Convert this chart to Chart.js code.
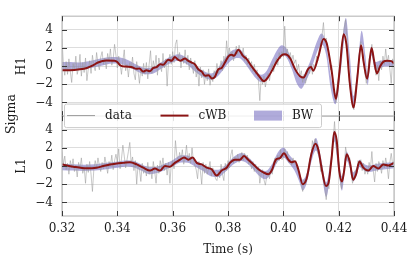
<!DOCTYPE html>
<html>
<head>
<meta charset="utf-8">
<script src="https://cdn.jsdelivr.net/npm/chart.js@4.4.0/dist/chart.umd.min.js"></script>
<style>
  html, body { margin: 0; padding: 0; background: #fff; }
  #grafico { display: block; }
</style>
</head>
<body>
<canvas id="grafico" width="415" height="257"></canvas>
<script>
// eixos
const timeTicks = [0.32, 0.34, 0.36, 0.38, 0.40, 0.42, 0.44];
const sigmaTicks = [-4, -2, 0, 2, 4];
const detectors = ['H1', 'L1'];
const seriesNames = ['data', 'cWB', 'BW'];

// dados brutos (whitened), uma amostra a cada 0.5 ms a partir de 0.32 s
const sampleStart = 0.32;
const sampleStep = 0.0005;
const h1Data = [
  3.0, 0.2, -1.0, 0.5, -0.9, 0.8, -0.6, -1.8, 0.3, -0.4, 1.1, -0.9, -0.2, 1.3, -1.1, 0.4, -0.7, 0.9, -1.6, -0.3,
  0.6, -0.8, 1.2, 0.1, -0.5, 1.5, 0.3, -0.4, 1.0, 1.6, 0.2, 0.9, -0.3, 1.4, 0.5, 1.9, 0.1, 0.8, 2.4, 1.2,
  -0.2, 1.1, 0.3, -0.9, 0.6, 1.8, -0.5, 0.2, -1.2, 0.4, -0.3, 1.0, -0.8, -1.5, 0.5, -0.6, -1.9, -0.2, -1.1, 0.3,
  -0.9, 0.4, -1.4, 0.2, 1.7, -0.8, 0.6, -0.3, 1.2, -1.0, 0.9, 0.1, -0.6, 1.4, -0.2, 0.8, -2.2, 0.5, 1.3, 0.2,
  1.6, 0.4, 2.4, 2.9, 0.8, 1.5, -0.2, 1.1, 0.3, 1.8, 0.2, 1.2, -0.4, 0.9, 0.1, -0.8, 0.6, -1.2, -0.3, -2.2,
  -0.1, -1.3, -0.4, -2.0, -0.8, -1.6, -0.3, -2.1, -1.0, -1.7, -0.5, -0.9, 0.3, -0.8, -0.2, 0.6, -0.5, 1.1, 0.4, 2.8,
  0.8, 2.0, 1.0, 1.6, 0.6, 1.4, 2.2, 1.3, 2.3, 1.5, 1.1, 2.0, 0.6, 1.2, 0.2, 0.9, -0.3, 0.5, -0.6, 0.2,
  -0.9, -0.4, -1.6, -3.8, -1.2, -2.0, -1.1, -2.3, -1.4, -0.8, -1.6, -0.5, 0.2, -0.6, 0.4, 0.9, 0.1, 1.5, 0.8, 1.6,
  1.0, 4.4, 1.2, 1.9, 0.8, 1.5, 0.6, 1.2, 0.3, 0.7, -0.5, 0.2, -1.1, -0.5, -1.8, -0.9, -1.9, -1.2, -0.4, -0.8,
  0.3, -0.9, 0.2, -0.2, 1.1, 0.6, 2.0, 2.6, 3.4, 4.8, 2.6, 3.1, 1.8, 1.4, -0.4, 0.1, -2.2, -3.4, -4.0, -2.0,
  -1.2, 0.3, 2.1, 3.0, 4.2, 5.1, 2.9, -0.2, -2.3, -3.0, -4.5, -4.8, -2.6, -2.1, -0.3, 1.4, 2.7, 1.6, 1.0, -0.8,
  -1.9, -0.6, 0.8, 1.2, 2.4, 0.9, 0.5, -1.0, 0.1, -1.6, 0.6, -0.4, 1.1, 0.2, 1.9, 0.4, 1.2, -0.3, -1.9, 0.8,
  0.3
];
const l1Data = [
  1.6, 0.2, 1.1, -0.4, 0.3, -0.9, 0.6, -0.2, 0.8, -0.6, 0.1, -1.2, 0.4, -0.3, 0.9, -0.8, -0.1, -1.9, 0.2, -0.7,
  0.5, -0.9, -2.8, -0.4, 0.6, -0.2, 0.9, 0.1, -0.6, 0.4, -0.3, 1.0, 0.2, -0.8, 0.5, 0.0, 1.2, -0.4, 0.6, 1.3,
  0.4, 1.9, -0.3, 0.8, 2.3, 1.1, -0.2, 0.7, 1.6, 2.6, 0.3, 1.0, -0.5, 0.6, -2.0, 0.2, -0.4, -1.7, 0.3, -0.8,
  -0.2, -1.1, 0.4, -0.9, -0.3, -1.4, 0.5, -0.6, -1.9, 0.1, -0.8, 0.6, -0.2, 0.9, -0.5, 0.3, -1.0, 0.4, -1.9, 0.2,
  0.6, -0.3, 2.8, 1.2, 0.4, 1.5, 0.7, 1.8, 0.2, 1.0, 2.3, 0.5, 1.4, 0.3, 2.0, 0.6, 0.1, -0.4, -1.4, 0.5,
  -0.5, -2.0, 0.4, -0.8, 0.2, -0.9, -0.3, 0.5, -1.1, -0.2, -0.7, -1.4, -1.6, -0.6, -1.3, 0.2, -0.9, -1.6, 0.3, -0.5,
  0.6, -0.2, 1.2, 1.8, 0.3, 1.0, 0.5, 1.3, 0.4, 0.9, 1.5, 0.6, 1.4, 0.8, 1.2, 0.2, 0.7, -0.3, 0.5, -0.6,
  0.2, -0.6, -0.1, -1.9, -0.8, -0.4, -1.5, -2.1, -1.2, -0.6, -1.4, -0.3, -0.9, 0.4, 0.9, 0.3, 1.2, 0.6, 1.8, 0.7,
  1.0, 1.9, 0.9, 1.6, 0.4, 0.8, 0.1, 0.9, 0.3, 0.6, -0.2, -0.8, -1.3, -1.9, -2.8, -1.5, -2.1, -0.9, -0.6, 0.8,
  0.9, 2.8, 2.0, 3.0, 2.2, 1.4, 1.2, -0.6, 0.1, -1.8, -2.4, -3.7, -2.0, -2.5, 0.5, 0.7, 2.8, 4.9, 2.6, 1.2,
  0.4, -1.4, -2.5, -1.1, -0.3, 2.1, 1.2, 0.6, 0.9, -0.8, -1.9, -1.2, -0.5, -0.8, 0.6, 0.1, 0.7, -0.5, 0.3, -0.9,
  -0.2, -0.9, 0.4, -0.3, 1.6, -0.5, -1.75, 0.3, -0.6, 0.5, 0.1, -0.8, 0.6, -0.2, 0.9, 0.0, -1.4, 0.4, 1.4, 0.2,
  0.6
];

// reconstrucao cWB
const h1CwbTime = [0.3200, 0.3230, 0.3265, 0.3290, 0.3310, 0.3330, 0.3360, 0.3390, 0.3400, 0.3410, 0.3430, 0.3450, 0.3470, 0.3480, 0.3494, 0.3505, 0.3518, 0.3530, 0.3542, 0.3555, 0.3566, 0.3584, 0.3596, 0.3608, 0.3618, 0.3627, 0.3645, 0.3655, 0.3669, 0.3680, 0.3693, 0.3705, 0.3717, 0.3730, 0.3741, 0.3752, 0.3765, 0.3777, 0.3789, 0.3801, 0.3812, 0.3822, 0.3837, 0.3855, 0.3867, 0.3885, 0.3910, 0.3930, 0.3945, 0.3964, 0.3976, 0.3994, 0.4006, 0.4024, 0.4042, 0.4060, 0.4073, 0.4090, 0.4100, 0.4108, 0.4127, 0.4145, 0.4157, 0.4175, 0.4190, 0.4203, 0.4218, 0.4228, 0.4240, 0.4254, 0.4267, 0.4281, 0.4290, 0.4303, 0.4319, 0.4328, 0.4338, 0.4350, 0.4362, 0.4375, 0.4390, 0.4400];
const h1CwbValue = [-0.45, -0.45, -0.35, -0.2, 0.05, 0.4, 0.62, 0.6, 0.45, 0.1, -0.05, -0.1, -0.3, -0.25, -0.6, -0.45, -0.55, -0.2, -0.1, 0.2, 0.15, 0.7, 0.6, 1.0, 0.75, 0.6, 0.85, 0.6, 0.4, 0.2, -0.35, -0.6, -1.05, -1.0, -1.35, -1.2, -0.35, -0.2, 0.4, 1.05, 1.25, 1.15, 1.8, 1.1, 0.8, 0.0, -1.0, -1.65, -1.2, -0.2, 0.5, 1.2, 1.3, 0.9, -0.3, -1.1, -1.25, -0.3, -0.1, -0.5, 1.1, 3.0, 2.5, -0.6, -3.6, -0.6, 3.5, 2.4, -1.8, -4.55, -1.4, 2.3, 0.5, -1.4, 2.0, 0.6, -0.8, 0.0, 0.5, 0.6, 0.55, 0.3];
const l1CwbTime = [0.3200, 0.3241, 0.3289, 0.3325, 0.3349, 0.3373, 0.3398, 0.3422, 0.3446, 0.3470, 0.3494, 0.3518, 0.3536, 0.3554, 0.3572, 0.3590, 0.3608, 0.3627, 0.3641, 0.3657, 0.3672, 0.3687, 0.3705, 0.3723, 0.3741, 0.3759, 0.3777, 0.3795, 0.3807, 0.3825, 0.3843, 0.3858, 0.3873, 0.3892, 0.3910, 0.3928, 0.3946, 0.3958, 0.3973, 0.3988, 0.4002, 0.4018, 0.4030, 0.4042, 0.4054, 0.4070, 0.4084, 0.4102, 0.4116, 0.4127, 0.4139, 0.4154, 0.4163, 0.4175, 0.4184, 0.4193, 0.4202, 0.4212, 0.4219, 0.4229, 0.4241, 0.4252, 0.4263, 0.4275, 0.4289, 0.4307, 0.4325, 0.4343, 0.4361, 0.4380, 0.4400];
const l1CwbValue = [0.18, -0.07, -0.25, -0.18, 0.0, 0.18, 0.28, 0.35, 0.42, 0.18, -0.18, -0.5, -0.28, -0.5, 0.0, -0.07, 0.35, 0.7, 0.95, 0.7, 0.95, 0.35, 0.18, -0.18, -0.35, -1.05, -0.5, -0.18, 0.35, 0.7, 0.7, 1.1, 0.7, 0.18, -0.35, -0.7, -0.9, -0.5, 0.7, 0.88, 1.4, 0.7, 0.42, 0.53, -0.35, -2.0, -1.4, 1.4, 2.45, 1.75, -0.35, -2.2, -1.9, 1.05, 3.75, 2.8, -0.5, -1.7, -0.7, 1.3, 0.35, -1.5, -0.88, 0.5, -0.18, -0.5, 0.0, -0.28, 0.18, 0.07, 0.35];

// banda BW (90%)
const h1BwTime = [0.320, 0.323, 0.326, 0.329, 0.332, 0.335, 0.338, 0.341, 0.344, 0.347, 0.350, 0.353, 0.356, 0.359, 0.362, 0.365, 0.368, 0.371, 0.374, 0.376, 0.378, 0.380, 0.382, 0.384, 0.386, 0.388, 0.390, 0.392, 0.394, 0.396, 0.398, 0.3995, 0.401, 0.403, 0.405, 0.4065, 0.408, 0.410, 0.412, 0.4138, 0.4155, 0.417, 0.4188, 0.4205, 0.4226, 0.4240, 0.4254, 0.4268, 0.4283, 0.4297, 0.4305, 0.4318, 0.4332, 0.435, 0.437, 0.440];
const h1BwLow = [-0.45, -0.45, -0.4, -0.3, -0.1, 0.1, 0.3, 0.25, -0.05, -0.55, -0.9, -0.8, -0.25, 0.3, 0.6, 0.25, -0.55, -1.2, -1.5, -1.2, -0.5, 0.3, 0.8, 0.9, 0.35, -0.5, -1.3, -1.75, -1.3, -0.15, 0.9, 1.2, 1.0, -0.3, -2.0, -2.5, -1.75, -0.4, 1.4, 2.4, 1.2, -2.2, -4.2, -1.3, 3.5, -0.3, -4.7, -1.7, 2.5, -0.1, -2.1, 1.2, -0.45, -0.2, -0.05, -0.05];
const h1BwHigh = [0.45, 0.45, 0.4, 0.5, 0.7, 0.9, 1.0, 0.95, 0.65, 0.15, -0.2, -0.1, 0.45, 1.0, 1.3, 0.95, 0.15, -0.5, -0.8, -0.4, 0.5, 1.3, 1.8, 1.9, 1.25, 0.3, -0.5, -0.95, -0.5, 0.75, 1.9, 2.3, 2.0, 0.7, -0.8, -1.3, -0.65, 0.8, 2.6, 3.6, 2.4, -0.8, -3.0, 0.3, 5.3, 1.3, -3.3, -0.3, 3.9, 1.1, -1.1, 2.2, 0.45, 0.6, 0.65, 0.65];
const l1BwTime = [0.320, 0.324, 0.328, 0.332, 0.336, 0.340, 0.3435, 0.346, 0.349, 0.3515, 0.354, 0.357, 0.360, 0.363, 0.3655, 0.368, 0.371, 0.374, 0.3765, 0.379, 0.382, 0.385, 0.388, 0.391, 0.3935, 0.396, 0.398, 0.400, 0.402, 0.404, 0.4058, 0.407, 0.4085, 0.410, 0.4118, 0.4135, 0.4155, 0.417, 0.4184, 0.4198, 0.4212, 0.4228, 0.424, 0.4252, 0.4265, 0.4275, 0.429, 0.431, 0.434, 0.437, 0.440];
const l1BwLow = [-0.45, -0.5, -0.55, -0.5, -0.35, -0.2, -0.05, -0.15, -0.55, -0.9, -0.8, -0.45, -0.05, 0.4, 0.35, -0.05, -0.55, -1.15, -1.2, -0.65, 0.2, 0.55, 0.0, -1.0, -1.45, -0.65, 0.5, 0.95, 0.3, -0.5, -1.75, -2.7, -1.85, 0.3, 1.7, -0.1, -3.4, -0.9, 2.7, -0.1, -2.7, 0.6, -0.2, -1.7, -1.05, -0.1, -0.45, -0.65, -0.45, -0.35, -0.25];
const l1BwHigh = [0.25, 0.2, 0.15, 0.2, 0.35, 0.5, 0.65, 0.55, 0.15, -0.1, -0.1, 0.25, 0.65, 1.2, 1.15, 0.65, 0.15, -0.35, -0.4, 0.05, 1.0, 1.45, 0.8, -0.2, -0.55, 0.25, 1.5, 2.05, 1.3, 0.5, -0.65, -1.5, -0.75, 1.5, 3.1, 1.1, -1.8, 0.5, 3.9, 1.3, -1.1, 1.6, 0.8, -0.7, -0.15, 0.7, 0.25, 0.05, 0.25, 0.35, 0.45];

const corDados = '#9a9a9a';
const corCwb = '#8b1414';
const corBw = 'rgba(112, 102, 190, 0.55)';
const corGrade = '#dddddd';
const corMoldura = '#bdbdbd';
const corTexto = '#1a1a1a';
const fonte = 'DejaVu Serif';

function pares(tempos, valores) {
  return valores.map((v, i) => ({ x: tempos[i], y: v }));
}
const amostras = h1Data.map((_, i) => sampleStart + i * sampleStep);

const linhaCwb = { borderColor: corCwb, borderWidth: 2, pointRadius: 0, cubicInterpolationMode: 'monotone', fill: false };
const linhaDados = { borderColor: corDados, borderWidth: 0.55, pointRadius: 0, tension: 0, fill: false };
const linhaBw = { borderWidth: 0, borderColor: 'rgba(0,0,0,0)', backgroundColor: corBw, pointRadius: 0, cubicInterpolationMode: 'monotone' };

const datasets = [
  { label: seriesNames[1], data: pares(h1CwbTime, h1CwbValue), yAxisID: 'yH', ...linhaCwb },
  { label: seriesNames[1], data: pares(l1CwbTime, l1CwbValue), yAxisID: 'yL', ...linhaCwb },
  { label: seriesNames[0], data: pares(amostras, h1Data), yAxisID: 'yH', ...linhaDados },
  { label: seriesNames[0], data: pares(amostras, l1Data), yAxisID: 'yL', ...linhaDados },
  { label: seriesNames[2], data: pares(h1BwTime, h1BwLow), yAxisID: 'yH', ...linhaBw, fill: false },
  { label: seriesNames[2], data: pares(h1BwTime, h1BwHigh), yAxisID: 'yH', ...linhaBw, fill: '-1' },
  { label: seriesNames[2], data: pares(l1BwTime, l1BwLow), yAxisID: 'yL', ...linhaBw, fill: false },
  { label: seriesNames[2], data: pares(l1BwTime, l1BwHigh), yAxisID: 'yL', ...linhaBw, fill: '-1' }
];

function eixoSigma(titulo) {
  return {
    type: 'linear',
    position: 'left',
    stack: 'sigma',
    min: -5.5,
    max: 5.5,
    afterBuildTicks: (s) => { s.ticks = sigmaTicks.map(v => ({ value: v })); },
    afterFit: (s) => { s.width = 50; },
    ticks: {
      autoSkip: false,
      padding: 9,
      color: corTexto,
      font: { family: fonte, size: 12 },
      callback: (v) => String(v).replace('-', '\u2212')
    },
    grid: { color: corGrade, drawTicks: false },
    border: { display: false },
    title: { display: true, text: titulo, color: corTexto, font: { family: fonte, size: 12 }, padding: { top: 3, bottom: 0 } }
  };
}

const moldura = {
  id: 'moldura',
  afterDatasetsDraw(chart) {
    const ctx = chart.ctx;
    const area = chart.chartArea;
    const sx = chart.scales.x;
    ctx.save();
    ['yH', 'yL'].forEach(id => {
      const s = chart.scales[id];
      ctx.strokeStyle = corMoldura;
      ctx.lineWidth = 1.2;
      ctx.strokeRect(area.left, s.top, area.right - area.left, s.bottom - s.top);
      ctx.strokeStyle = '#3a3a3a';
      ctx.lineWidth = 1;
      ctx.beginPath();
      timeTicks.forEach(t => {
        const px = Math.round(sx.getPixelForValue(t)) + 0.5;
        ctx.moveTo(px, s.top); ctx.lineTo(px, s.top + 5);
        ctx.moveTo(px, s.bottom); ctx.lineTo(px, s.bottom - 5);
      });
      sigmaTicks.forEach(v => {
        const py = Math.round(s.getPixelForValue(v)) + 0.5;
        ctx.moveTo(area.left, py); ctx.lineTo(area.left + 5, py);
        ctx.moveTo(area.right, py); ctx.lineTo(area.right - 5, py);
      });
      ctx.stroke();
    });
    ctx.restore();
  },
  afterDraw(chart) {
    const ctx = chart.ctx;
    const area = chart.chartArea;
    const meio = chart.scales.yH.bottom;
    ctx.save();
    // Sigma
    ctx.fillStyle = corTexto;
    ctx.font = '12.5px "' + fonte + '"';
    ctx.textAlign = 'center';
    ctx.textBaseline = 'middle';
    ctx.translate(12, meio - 2);
    ctx.rotate(-Math.PI / 2);
    ctx.fillText('Sigma', 0, 0);
    ctx.restore();

    // legenda
    ctx.save();
    const bx = area.left + 2, by = meio - 12.5, bw = 257, bh = 23.5;
    ctx.beginPath();
    ctx.roundRect(bx + 0.5, by + 0.5, bw, bh, 2);
    ctx.fillStyle = 'rgba(255,255,255,0.85)';
    ctx.fill();
    ctx.strokeStyle = '#cccccc';
    ctx.lineWidth = 1;
    ctx.stroke();
    const cy = by + 12;
    const entradas = [chart.data.datasets[2], chart.data.datasets[0], chart.data.datasets[5]];
    ctx.font = '12px "' + fonte + '"';
    ctx.textBaseline = 'middle';
    ctx.textAlign = 'left';
    entradas.forEach((ds, i) => {
      const x0 = bx + 3 + i * 93.5;
      if (i === 2) {
        ctx.fillStyle = corBw;
        ctx.fillRect(x0, cy - 5, 28, 10);
      } else {
        ctx.strokeStyle = ds.borderColor;
        ctx.lineWidth = i === 0 ? 1 : 2;
        ctx.beginPath();
        ctx.moveTo(x0, cy); ctx.lineTo(x0 + 28, cy);
        ctx.stroke();
      }
      ctx.fillStyle = corTexto;
      ctx.fillText(ds.label, x0 + 38, cy + 0.5);
    });
    ctx.restore();
  }
};

new Chart(document.getElementById('grafico'), {
  type: 'line',
  data: { datasets },
  options: {
    responsive: false,
    animation: false,
    devicePixelRatio: 1,
    layout: { padding: { left: 12, top: 7, right: 21, bottom: 0 } },
    plugins: { legend: { display: false }, tooltip: { enabled: false } },
    scales: {
      x: {
        type: 'linear',
        min: 0.32,
        max: 0.44,
        afterBuildTicks: (s) => { s.ticks = timeTicks.map(v => ({ value: v })); },
        afterFit: (s) => { s.height = 41; },
        ticks: { autoSkip: false, padding: 6, color: corTexto, font: { family: fonte, size: 12 }, maxRotation: 0, callback: (v) => v.toFixed(2) },
        grid: { color: corGrade, drawTicks: false },
        border: { display: false },
        title: { display: true, text: 'Time (s)', color: corTexto, font: { family: fonte, size: 12 }, padding: { top: 0, bottom: 0 } }
      },
      yL: eixoSigma(detectors[1]),
      yH: eixoSigma(detectors[0])
    }
  },
  plugins: [moldura]
});
</script>
</body>
</html>
